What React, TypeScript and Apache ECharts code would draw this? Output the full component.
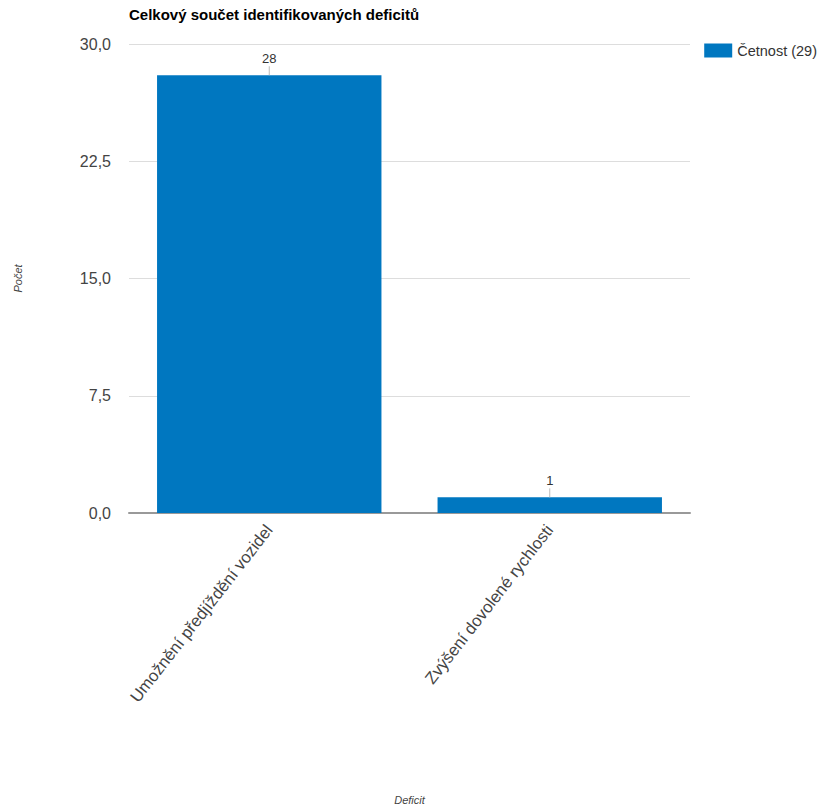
import React, { useEffect, useRef } from "react";
import * as echarts from "echarts";

const categories = ["Umožnění předjíždění vozidel", "Zvýšení dovolené rychlosti"];
const values = [28, 1];
const seriesName = "Četnost (29)";
const yTicks = { min: 0, max: 30, interval: 7.5 };

export default function App() {
  const ref = useRef<HTMLDivElement>(null);
  useEffect(() => {
    const chart = echarts.init(ref.current!, null, { renderer: "svg" });
    const font = "Liberation Sans, Arial, sans-serif";
    chart.setOption({
      animation: false,
      textStyle: { fontFamily: font },
      title: {
        text: "Celkový součet identifikovaných deficitů",
        left: 124,
        top: 2,
        textStyle: { fontSize: 15, fontWeight: "bold", color: "#000", fontFamily: font },
      },
      legend: {
        right: 0,
        top: 38,
        icon: "rect",
        itemWidth: 28,
        itemHeight: 14,
        itemGap: 6,
        textStyle: { fontSize: 14.5, color: "#333", fontFamily: font },
        data: [seriesName],
      },
      grid: { left: 129, right: 132, top: 44, bottom: 297 },
      xAxis: {
        type: "category",
        data: categories,
        name: "Deficit",
        nameLocation: "middle",
        nameGap: 281,
        nameTextStyle: { fontStyle: "italic", fontSize: 11, color: "#444", fontFamily: font },
        axisLine: { lineStyle: { color: "#999", width: 2 } },
        axisTick: { show: false },
        axisLabel: { rotate: 52, fontSize: 16.7, color: "#444", margin: 14, fontFamily: font },
      },
      yAxis: {
        type: "value",
        min: yTicks.min,
        max: yTicks.max,
        interval: yTicks.interval,
        name: "Počet",
        nameLocation: "middle",
        nameGap: 106,
        nameTextStyle: { fontStyle: "italic", fontSize: 11, color: "#444", fontFamily: font },
        axisLabel: {
          fontSize: 16,
          color: "#444",
          margin: 18,
          fontFamily: font,
          formatter: (v: number) => v.toFixed(1).replace(".", ","),
        },
        splitLine: { lineStyle: { color: "#ddd" } },
        axisLine: { show: false },
        axisTick: { show: false },
      },
      series: [
        {
          name: seriesName,
          type: "bar",
          data: values,
          barCategoryGap: "20%",
          itemStyle: { color: "#0077c0" },
          label: {
            show: true,
            position: "top",
            distance: 10,
            fontSize: 13,
            color: "#333",
            fontFamily: font,
          },
        },
        {
          type: "custom",
          silent: true,
          data: values.map((v, i) => [i, v]),
          renderItem: (params: any, api: any) => {
            const p = api.coord([api.value(0), api.value(1)]);
            return {
              type: "line",
              shape: { x1: p[0], y1: p[1], x2: p[0], y2: p[1] - 9 },
              style: { stroke: "#bbb", lineWidth: 1 },
            };
          },
          z: 5,
        },
      ],
    });
    return () => chart.dispose();
  }, []);
  return (
    <div
      ref={ref}
      style={{ position: "absolute", left: 0, top: 0, width: 822, height: 810 }}
    />
  );
}
